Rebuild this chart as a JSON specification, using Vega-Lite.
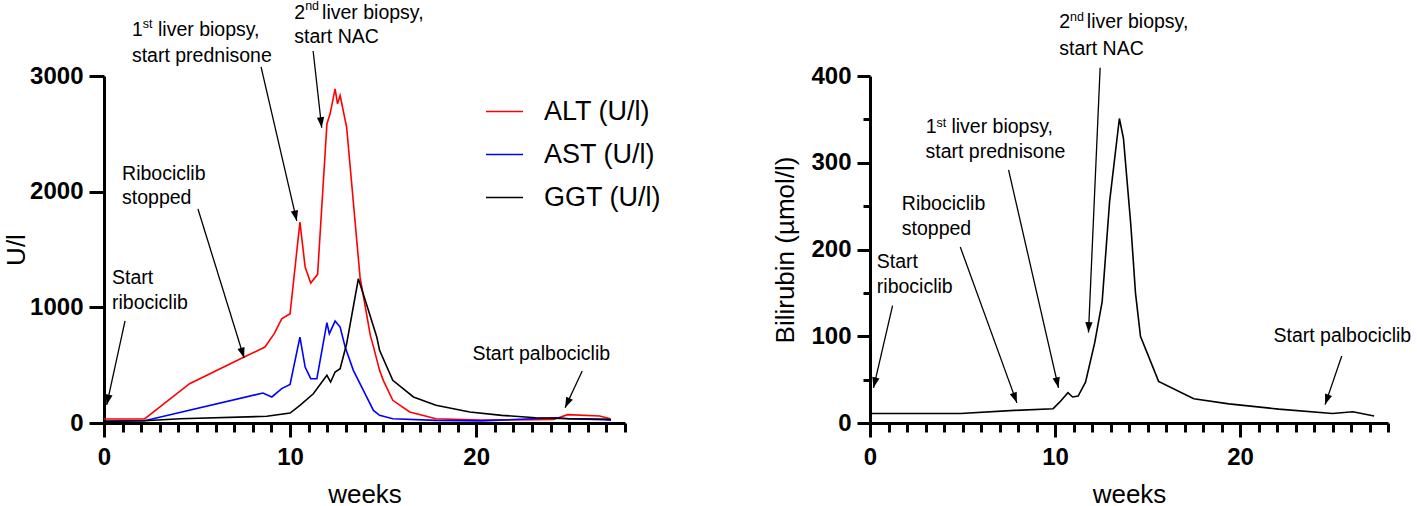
{
  "$schema": "https://vega.github.io/schema/vega-lite/v6.json",
  "padding": {"left": 3, "top": 0, "right": 0, "bottom": 0},
  "spacing": 145,
  "config": {
    "font": "Liberation Sans",
    "view": {"stroke": null},
    "axis": {
      "grid": false,
      "domainColor": "black",
      "domainWidth": 3,
      "tickColor": "black",
      "tickWidth": 3,
      "labelColor": "black",
      "labelFont": "Liberation Sans",
      "labelFontSize": 24,
      "labelFontWeight": "bold",
      "titleColor": "black",
      "titleFont": "Liberation Sans",
      "titleFontSize": 26,
      "titleFontWeight": "normal"
    }
  },
  "datasets": {
    "enzymes": [
      {"week": 0, "value": 35, "test": "ALT (U/l)"},
      {"week": 2.18, "value": 35, "test": "ALT (U/l)"},
      {"week": 4.6, "value": 340, "test": "ALT (U/l)"},
      {"week": 7.53, "value": 570, "test": "ALT (U/l)"},
      {"week": 8.65, "value": 657, "test": "ALT (U/l)"},
      {"week": 9.15, "value": 772, "test": "ALT (U/l)"},
      {"week": 9.55, "value": 900, "test": "ALT (U/l)"},
      {"week": 10.0, "value": 945, "test": "ALT (U/l)"},
      {"week": 10.53, "value": 1737, "test": "ALT (U/l)"},
      {"week": 10.81, "value": 1348, "test": "ALT (U/l)"},
      {"week": 11.11, "value": 1210, "test": "ALT (U/l)"},
      {"week": 11.48, "value": 1285, "test": "ALT (U/l)"},
      {"week": 11.98, "value": 2586, "test": "ALT (U/l)"},
      {"week": 12.15, "value": 2673, "test": "ALT (U/l)"},
      {"week": 12.42, "value": 2889, "test": "ALT (U/l)"},
      {"week": 12.55, "value": 2759, "test": "ALT (U/l)"},
      {"week": 12.69, "value": 2831, "test": "ALT (U/l)"},
      {"week": 13.04, "value": 2557, "test": "ALT (U/l)"},
      {"week": 13.76, "value": 1261, "test": "ALT (U/l)"},
      {"week": 14.31, "value": 760, "test": "ALT (U/l)"},
      {"week": 14.48, "value": 660, "test": "ALT (U/l)"},
      {"week": 14.81, "value": 455, "test": "ALT (U/l)"},
      {"week": 15.01, "value": 369, "test": "ALT (U/l)"},
      {"week": 15.52, "value": 196, "test": "ALT (U/l)"},
      {"week": 16.43, "value": 95, "test": "ALT (U/l)"},
      {"week": 17.84, "value": 37, "test": "ALT (U/l)"},
      {"week": 20.27, "value": 25, "test": "ALT (U/l)"},
      {"week": 24.16, "value": 30, "test": "ALT (U/l)"},
      {"week": 24.92, "value": 72, "test": "ALT (U/l)"},
      {"week": 26.64, "value": 60, "test": "ALT (U/l)"},
      {"week": 27.2, "value": 37, "test": "ALT (U/l)"},
      {"week": 0, "value": 15, "test": "AST (U/l)"},
      {"week": 2.18, "value": 20, "test": "AST (U/l)"},
      {"week": 8.54, "value": 259, "test": "AST (U/l)"},
      {"week": 9.02, "value": 225, "test": "AST (U/l)"},
      {"week": 9.55, "value": 297, "test": "AST (U/l)"},
      {"week": 10.0, "value": 334, "test": "AST (U/l)"},
      {"week": 10.53, "value": 743, "test": "AST (U/l)"},
      {"week": 10.81, "value": 484, "test": "AST (U/l)"},
      {"week": 11.11, "value": 383, "test": "AST (U/l)"},
      {"week": 11.44, "value": 383, "test": "AST (U/l)"},
      {"week": 11.98, "value": 867, "test": "AST (U/l)"},
      {"week": 12.11, "value": 772, "test": "AST (U/l)"},
      {"week": 12.42, "value": 881, "test": "AST (U/l)"},
      {"week": 12.69, "value": 829, "test": "AST (U/l)"},
      {"week": 12.96, "value": 657, "test": "AST (U/l)"},
      {"week": 13.4, "value": 455, "test": "AST (U/l)"},
      {"week": 13.94, "value": 282, "test": "AST (U/l)"},
      {"week": 14.48, "value": 109, "test": "AST (U/l)"},
      {"week": 14.81, "value": 66, "test": "AST (U/l)"},
      {"week": 15.52, "value": 37, "test": "AST (U/l)"},
      {"week": 17.84, "value": 23, "test": "AST (U/l)"},
      {"week": 20.3, "value": 18, "test": "AST (U/l)"},
      {"week": 24.3, "value": 46, "test": "AST (U/l)"},
      {"week": 25.0, "value": 37, "test": "AST (U/l)"},
      {"week": 26.84, "value": 29, "test": "AST (U/l)"},
      {"week": 27.25, "value": 25, "test": "AST (U/l)"},
      {"week": 0, "value": 15, "test": "GGT (U/l)"},
      {"week": 2.18, "value": 20, "test": "GGT (U/l)"},
      {"week": 4.1, "value": 37, "test": "GGT (U/l)"},
      {"week": 8.75, "value": 58, "test": "GGT (U/l)"},
      {"week": 10.0, "value": 86, "test": "GGT (U/l)"},
      {"week": 10.53, "value": 153, "test": "GGT (U/l)"},
      {"week": 11.25, "value": 253, "test": "GGT (U/l)"},
      {"week": 11.98, "value": 412, "test": "GGT (U/l)"},
      {"week": 12.18, "value": 354, "test": "GGT (U/l)"},
      {"week": 12.42, "value": 441, "test": "GGT (U/l)"},
      {"week": 12.69, "value": 469, "test": "GGT (U/l)"},
      {"week": 13.04, "value": 685, "test": "GGT (U/l)"},
      {"week": 13.67, "value": 1247, "test": "GGT (U/l)"},
      {"week": 14.1, "value": 1031, "test": "GGT (U/l)"},
      {"week": 14.66, "value": 743, "test": "GGT (U/l)"},
      {"week": 14.81, "value": 628, "test": "GGT (U/l)"},
      {"week": 15.52, "value": 369, "test": "GGT (U/l)"},
      {"week": 16.63, "value": 225, "test": "GGT (U/l)"},
      {"week": 17.84, "value": 153, "test": "GGT (U/l)"},
      {"week": 19.66, "value": 95, "test": "GGT (U/l)"},
      {"week": 21.38, "value": 66, "test": "GGT (U/l)"},
      {"week": 23.2, "value": 46, "test": "GGT (U/l)"},
      {"week": 25.0, "value": 37, "test": "GGT (U/l)"},
      {"week": 27.25, "value": 32, "test": "GGT (U/l)"}
    ],
    "bilirubin": [
      {"week": 0, "value": 11},
      {"week": 4.9, "value": 11},
      {"week": 7.8, "value": 14.5},
      {"week": 9.9, "value": 16.5},
      {"week": 10.25, "value": 24},
      {"week": 10.7, "value": 35},
      {"week": 10.95, "value": 30},
      {"week": 11.25, "value": 31},
      {"week": 11.65, "value": 47},
      {"week": 12.15, "value": 93},
      {"week": 12.55, "value": 140},
      {"week": 12.95, "value": 255},
      {"week": 13.48, "value": 351},
      {"week": 13.7, "value": 328},
      {"week": 14.1, "value": 228},
      {"week": 14.35, "value": 150},
      {"week": 14.62, "value": 100},
      {"week": 15.6, "value": 48},
      {"week": 17.5, "value": 28},
      {"week": 19.4, "value": 22},
      {"week": 22.1, "value": 16},
      {"week": 25.0, "value": 11},
      {"week": 26.1, "value": 13},
      {"week": 27.25, "value": 8}
    ],
    "leftText": [
      {"x": 0.43, "y": 1254, "t": "Start"},
      {"x": 0.43, "y": 1038, "t": "ribociclib"},
      {"x": 0.97, "y": 2153, "t": "Ribociclib"},
      {"x": 0.97, "y": 1945, "t": "stopped"},
      {"x": 1.5, "y": 3398, "t": "1"},
      {"x": 2.9, "y": 3398, "t": "liver biopsy,"},
      {"x": 1.5, "y": 3173, "t": "start prednisone"},
      {"x": 10.23, "y": 3545, "t": "2"},
      {"x": 11.72, "y": 3545, "t": "liver biopsy,"},
      {"x": 10.23, "y": 3337, "t": "start NAC"},
      {"x": 19.8, "y": 597, "t": "Start palbociclib"}
    ],
    "leftSup": [
      {"x": 2.08, "y": 3450, "t": "st"},
      {"x": 10.81, "y": 3601, "t": "nd"}
    ],
    "leftArrows": [
      {"x": 1.13, "y": 882, "x2": 0.145, "y2": 156},
      {"x": 5.05, "y": 1850, "x2": 7.53, "y2": 562},
      {"x": 8.44, "y": 3078, "x2": 10.36, "y2": 1747},
      {"x": 11.24, "y": 3216, "x2": 11.7, "y2": 2553},
      {"x": 25.7, "y": 450, "x2": 24.78, "y2": 132}
    ],
    "rightText": [
      {"x": 0.37, "y": 186, "t": "Start"},
      {"x": 0.37, "y": 156.5, "t": "ribociclib"},
      {"x": 1.72, "y": 253, "t": "Ribociclib"},
      {"x": 1.72, "y": 223.3, "t": "stopped"},
      {"x": 3.02, "y": 341, "t": "1"},
      {"x": 4.4, "y": 341, "t": "liver biopsy,"},
      {"x": 3.0, "y": 312, "t": "start prednisone"},
      {"x": 10.23, "y": 462, "t": "2"},
      {"x": 11.72, "y": 462, "t": "liver biopsy,"},
      {"x": 10.23, "y": 431, "t": "start NAC"},
      {"x": 21.81, "y": 100.4, "t": "Start palbociclib"}
    ],
    "rightSup": [
      {"x": 3.6, "y": 346, "t": "st"},
      {"x": 10.81, "y": 468, "t": "nd"}
    ],
    "rightArrows": [
      {"x": 1.22, "y": 135.2, "x2": 0.19, "y2": 40.6},
      {"x": 4.88, "y": 202.9, "x2": 7.94, "y2": 23.2},
      {"x": 7.49, "y": 291.7, "x2": 10.19, "y2": 40.6},
      {"x": 12.44, "y": 409.6, "x2": 11.81, "y2": 104.3},
      {"x": 25.5, "y": 77.2, "x2": 24.6, "y2": 21.2}
    ]
  },
  "hconcat": [
    {
      "width": 521,
      "height": 347,
      "layer": [
        {
          "data": {"name": "enzymes"},
          "mark": {"type": "line", "strokeWidth": 1.6},
          "encoding": {
            "x": {
              "field": "week",
              "type": "quantitative",
              "scale": {"domain": [0, 28], "nice": false, "zero": false},
              "axis": {
                "title": "weeks",
                "values": [0,1,2,3,4,5,6,7,8,9,10,11,12,13,14,15,16,17,18,19,20,21,22,23,24,25,26,27,28],
                "tickCount": 40,
                "format": "d",
                "labelExpr": "datum.value % 10 === 0 ? datum.label : ''",
                "tickSize": {"condition": {"test": "datum.value % 10 === 0", "value": 14}, "value": 9},
                "labelPadding": 8,
                "labelOverlap": false,
                "labelFlush": false,
                "titlePadding": 12
              }
            },
            "y": {
              "field": "value",
              "type": "quantitative",
              "scale": {"domain": [0, 3000], "nice": false},
              "axis": {
                "title": "U/l",
                "values": [0, 1000, 2000, 3000],
                "format": "d",
                "tickSize": 15,
                "labelPadding": 6,
                "titlePadding": 0
              }
            },
            "color": {
              "field": "test",
              "type": "nominal",
              "scale": {
                "domain": ["ALT (U/l)", "AST (U/l)", "GGT (U/l)"],
                "range": ["#ff0000", "#0000ff", "#000000"]
              },
              "legend": {
                "title": null,
                "orient": "none",
                "legendX": 381,
                "legendY": 16,
                "padding": 0,
                "symbolType": "stroke",
                "symbolSize": 1369,
                "symbolStrokeWidth": 1.6,
                "labelFont": "Liberation Sans",
                "labelFontSize": 27,
                "labelColor": "black",
                "labelOffset": 20,
                "labelLimit": 300,
                "rowPadding": 10
              }
            }
          }
        },
        {
          "data": {"name": "leftArrows"},
          "mark": {"type": "rule", "color": "black", "strokeWidth": 1.3},
          "encoding": {
            "x": {"field": "x", "type": "quantitative"},
            "y": {"field": "y", "type": "quantitative"},
            "x2": {"field": "x2"},
            "y2": {"field": "y2"}
          }
        },
        {
          "data": {"name": "leftArrows"},
          "transform": [
            {"calculate": "atan2((datum.x2 - datum.x) * 18.6, (datum.y2 - datum.y) * 0.11567) * 180 / PI", "as": "heading"}
          ],
          "mark": {"type": "point", "shape": "M0,0L-0.7,2L0.7,2Z", "filled": true, "color": "black", "size": 110, "opacity": 1},
          "encoding": {
            "x": {"field": "x2", "type": "quantitative"},
            "y": {"field": "y2", "type": "quantitative"},
            "angle": {"field": "heading", "type": "quantitative", "scale": null}
          }
        },
        {
          "data": {"name": "leftText"},
          "mark": {"type": "text", "align": "left", "baseline": "middle", "fontSize": 19.5, "color": "black"},
          "encoding": {
            "x": {"field": "x", "type": "quantitative"},
            "y": {"field": "y", "type": "quantitative"},
            "text": {"field": "t"}
          }
        },
        {
          "data": {"name": "leftSup"},
          "mark": {"type": "text", "align": "left", "baseline": "middle", "fontSize": 12.5, "color": "black"},
          "encoding": {
            "x": {"field": "x", "type": "quantitative"},
            "y": {"field": "y", "type": "quantitative"},
            "text": {"field": "t"}
          }
        }
      ]
    },
    {
      "width": 518,
      "height": 347,
      "layer": [
        {
          "data": {"name": "bilirubin"},
          "mark": {"type": "line", "color": "black", "strokeWidth": 1.6},
          "encoding": {
            "x": {
              "field": "week",
              "type": "quantitative",
              "scale": {"domain": [0, 28], "nice": false, "zero": false},
              "axis": {
                "title": "weeks",
                "values": [0,1,2,3,4,5,6,7,8,9,10,11,12,13,14,15,16,17,18,19,20,21,22,23,24,25,26,27,28],
                "tickCount": 40,
                "format": "d",
                "labelExpr": "datum.value % 10 === 0 ? datum.label : ''",
                "tickSize": {"condition": {"test": "datum.value % 10 === 0", "value": 14}, "value": 9},
                "labelPadding": 8,
                "labelOverlap": false,
                "labelFlush": false,
                "titlePadding": 12
              }
            },
            "y": {
              "field": "value",
              "type": "quantitative",
              "scale": {"domain": [0, 400], "nice": false},
              "axis": {
                "title": "Bilirubin (µmol/l)",
                "values": [0, 50, 100, 150, 200, 250, 300, 350, 400],
                "tickCount": 20,
                "format": "d",
                "labelExpr": "datum.value % 100 === 0 ? datum.label : ''",
                "tickSize": {"condition": {"test": "datum.value % 100 === 0", "value": 13}, "value": 7},
                "labelPadding": 6,
                "titlePadding": 12
              }
            }
          }
        },
        {
          "data": {"name": "rightArrows"},
          "mark": {"type": "rule", "color": "black", "strokeWidth": 1.3},
          "encoding": {
            "x": {"field": "x", "type": "quantitative"},
            "y": {"field": "y", "type": "quantitative"},
            "x2": {"field": "x2"},
            "y2": {"field": "y2"}
          }
        },
        {
          "data": {"name": "rightArrows"},
          "transform": [
            {"calculate": "atan2((datum.x2 - datum.x) * 18.5, (datum.y2 - datum.y) * 0.8625) * 180 / PI", "as": "heading"}
          ],
          "mark": {"type": "point", "shape": "M0,0L-0.7,2L0.7,2Z", "filled": true, "color": "black", "size": 110, "opacity": 1},
          "encoding": {
            "x": {"field": "x2", "type": "quantitative"},
            "y": {"field": "y2", "type": "quantitative"},
            "angle": {"field": "heading", "type": "quantitative", "scale": null}
          }
        },
        {
          "data": {"name": "rightText"},
          "mark": {"type": "text", "align": "left", "baseline": "middle", "fontSize": 19.5, "color": "black"},
          "encoding": {
            "x": {"field": "x", "type": "quantitative"},
            "y": {"field": "y", "type": "quantitative"},
            "text": {"field": "t"}
          }
        },
        {
          "data": {"name": "rightSup"},
          "mark": {"type": "text", "align": "left", "baseline": "middle", "fontSize": 12.5, "color": "black"},
          "encoding": {
            "x": {"field": "x", "type": "quantitative"},
            "y": {"field": "y", "type": "quantitative"},
            "text": {"field": "t"}
          }
        }
      ]
    }
  ]
}
